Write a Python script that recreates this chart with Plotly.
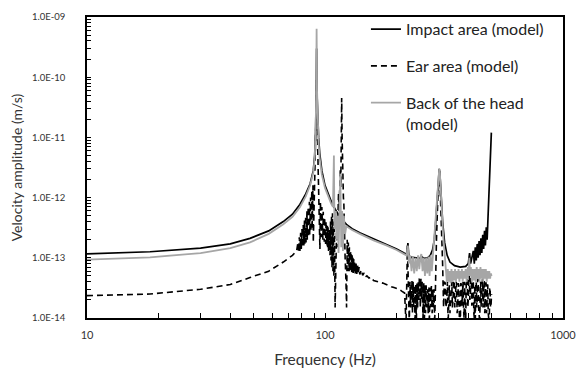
import plotly.graph_objects as go

# ---------------- data ----------------
impact_f = [10, 18.4, 30, 40, 48.4, 58, 66.8, 73, 78.4, 83, 86.6, 89.3, 90.5, 91.3, 91.8, 92.2, 92.6, 93.2, 94, 95,
            97, 100, 103, 107, 112, 117, 123, 125, 130, 140, 150, 160, 180, 200, 215, 220, 222, 223, 224.5, 226,
            230, 240, 250, 255, 260, 270, 277, 283, 288, 292, 296, 299, 302, 305, 308, 312, 318, 326, 335, 350,
            370, 390, 400, 405, 409, 415, 420, 424, 428, 432, 436, 440, 444, 448, 452, 456, 460, 464, 468, 472,
            476, 480, 484, 488, 491, 494, 497, 500]
impact_v = [1.16e-13, 1.26e-13, 1.45e-13, 1.7e-13, 2.1e-13, 2.8e-13, 4.0e-13, 5.3e-13, 7.7e-13, 1.15e-12, 1.7e-12,
            2.8e-12, 5e-12, 1.2e-11, 5e-11, 3e-10, 5e-11, 1.5e-11, 1e-11, 5.5e-12,
            2.8e-12, 1.6e-12, 1.15e-12, 8e-13, 5.8e-13, 4.5e-13, 3.6e-13, 3.4e-13, 3.05e-13, 2.6e-13, 2.3e-13,
            2.05e-13, 1.7e-13, 1.4e-13, 1.2e-13, 1.15e-13, 1.4e-13, 1.75e-13, 1.2e-13, 9e-14,
            1.02e-13, 1e-13, 9.8e-14, 1.05e-13, 9.8e-14, 1e-13, 1.1e-13, 1.35e-13, 2e-13, 4e-13, 9e-13, 2e-12,
            3e-12, 2e-12, 9e-13, 4e-13, 1.8e-13, 1.1e-13, 8.5e-14, 7.4e-14,
            7e-14, 7.2e-14, 8e-14, 1.2e-13, 8e-14, 1e-13, 1.3e-13, 8e-14, 1.5e-13, 9e-14, 1.7e-13, 1e-13, 1.9e-13,
            1.1e-13, 2.1e-13, 1.2e-13, 2.4e-13, 1.4e-13, 2.8e-13, 1.6e-13,
            3.2e-13, 2e-13, 4.5e-13, 8e-13, 1.5e-12, 2.5e-12, 5e-12, 1.2e-11]

ear_f = [10, 18.4, 30, 40, 48.4, 58, 66.8, 73, 76,
         77, 77.5, 78, 78.5, 79, 79.5, 80, 80.5, 81, 81.5, 82, 82.25, 82.5, 82.75, 83, 83.25, 83.5, 83.75,
         84, 84.25, 84.5, 84.75, 85, 85.25, 85.5, 85.75, 86, 86.25, 86.5, 86.75, 87, 87.25, 87.5, 87.75,
         88, 88.25, 88.5, 88.75, 89,
         89.3, 90, 91, 91.6, 92.1, 92.6, 93.3, 94.2, 95.2,
         95.7, 96, 96.3, 96.6, 97, 97.3, 97.6, 98, 98.3, 98.6, 99, 99.3, 99.6, 100, 100.3, 100.6, 101, 101.3,
         101.6, 102, 102.3, 102.6, 103, 103.5, 104, 105,
         105.5, 106, 106.5, 107, 107.5, 108, 108.5, 109, 109.5, 110.3, 111, 111.5, 112, 112.5, 113, 113.5,
         114, 114.5, 115, 115.5, 116, 116.5, 117, 117.5, 118, 118.5, 119, 119.5, 120, 120.5, 121, 121.5,
         122.5, 123.2, 124, 124.3, 124.6, 125, 125.3, 125.6, 126, 126.3, 126.6, 127, 127.3, 127.6, 128, 128.5,
         129, 129.5, 130, 130.5, 131, 131.5, 132, 132.5, 133, 134, 135, 136, 137, 138, 139, 140,
         142, 144, 146, 148, 150, 153, 156, 160, 165, 170, 175, 180, 185, 190, 195, 200, 205, 210, 216,
         219, 222, 226, 227.5, 229, 230, 231, 232, 233, 234.5, 236, 237.5, 239, 240.5, 242, 243.5, 245, 246.5,
         248, 249, 250, 251.5, 253, 254.5, 256, 258, 260, 261.5, 263, 264.5, 266, 268, 270, 271.5, 273, 274.5,
         276, 278, 280, 282, 284, 285.5, 287, 288, 289, 294, 298, 303, 308, 312,
         315, 317, 320, 322, 325, 327, 329, 331, 333, 335, 337, 339, 341, 343, 345, 347, 349, 351, 353, 355,
         357, 359, 361, 363, 365, 367, 369, 370.5, 372, 374, 376, 378, 380, 382, 384, 386, 388, 390, 392, 394,
         396, 398, 400, 402, 404, 406, 408, 410, 412, 414, 416, 418, 420, 422, 424, 426, 428, 430, 432, 434,
         436, 438, 440, 442, 444, 445.5, 447, 449, 451, 453, 455, 457, 459, 461, 463, 465, 467, 469, 471, 473,
         475, 477, 479, 481, 483, 485, 487, 488.5, 490, 492, 494, 496, 498, 501]
ear_v = [2.35e-14, 2.5e-14, 3e-14, 3.6e-14, 4.7e-14, 6e-14, 8.5e-14, 1.1e-13, 1.3e-13,
         1.8e-13, 1.25e-13, 2.2e-13, 1.3e-13, 2.6e-13, 1.4e-13, 3e-13, 1.5e-13, 3.5e-13, 1.6e-13, 4.2e-13,
         1.7e-13, 4.6e-13, 1.7e-13, 5e-13, 1.8e-13, 5.5e-13, 1.8e-13,
         6e-13, 2e-13, 6.5e-13, 2e-13, 7e-13, 2.2e-13, 7.7e-13, 2.2e-13, 8.5e-13, 2.4e-13, 9e-13, 2.5e-13,
         1e-12, 2.7e-13, 1.1e-12, 2.8e-13, 1.3e-12, 3e-13, 1.4e-12, 3e-13, 1.6e-12,
         1.8e-13, 1.5e-12, 5e-12, 2e-11, 9e-11, 2e-11, 5e-12, 1.5e-12, 1.4e-13,
         8.5e-13, 2.3e-13, 7.5e-13, 2.2e-13, 7e-13, 2.1e-13, 6.3e-13, 2e-13, 5.8e-13, 1.9e-13, 5.2e-13,
         1.85e-13, 4.7e-13, 1.8e-13, 4.3e-13, 1.7e-13, 4e-13, 1.65e-13, 3.7e-13, 1.6e-13, 3.4e-13, 1.5e-13,
         3.2e-13, 1.3e-13, 2.9e-13, 1.1e-13,
         4e-13, 9e-14, 5e-13, 7e-14, 5.5e-13, 6e-14, 4e-13, 5e-14, 3e-13, 1.5e-14, 2e-13, 8e-14, 4e-13, 1.5e-13,
         7e-13, 3e-13,
         1.2e-12, 6e-13, 2e-12, 1.2e-12, 3e-12, 1.5e-12, 1e-11, 4.5e-11, 1e-11, 2e-12, 2.5e-12, 1e-12, 8e-13,
         2e-13, 5e-13, 1e-13,
         4e-14, 1.5e-14, 2e-13, 6e-14, 1.9e-13, 6.5e-14, 1.8e-13, 6.5e-14, 1.6e-13, 6e-14, 1.5e-13, 6e-14,
         1.4e-13, 6e-14, 1.3e-13, 6e-14,
         1.2e-13, 5.8e-14, 1.1e-13, 5.7e-14, 1e-13, 5.6e-14, 9.5e-14, 5.5e-14, 8.5e-14, 5.5e-14, 8e-14, 5.4e-14,
         7.5e-14, 5.4e-14, 7e-14, 5.3e-14,
         6.3e-14, 5.1e-14, 5.6e-14, 4.8e-14, 5e-14, 4.6e-14, 4.8e-14, 4.2e-14, 4.1e-14, 3.9e-14, 3.8e-14,
         3.6e-14, 3.5e-14, 3.3e-14, 3.2e-14, 3.1e-14, 3e-14, 2.8e-14, 2.6e-14,
         8e-15, 1.6e-13, 8e-15, 4e-14, 1.5e-14, 3.5e-14, 2e-14, 4.2e-14, 1.2e-14, 4e-14, 1.5e-14, 3.5e-14,
         8e-15, 3.6e-14, 8e-15, 3.8e-14, 1.5e-14, 4e-14,
         2e-14, 4.5e-14, 4.7e-14, 1.5e-14, 4.5e-14, 2e-14, 4e-14, 1e-14, 3.8e-14, 8e-15, 3.5e-14, 1.2e-14,
         3.5e-14, 1.5e-14, 3e-14, 1.2e-14, 3.2e-14, 8e-15,
         3.2e-14, 1.5e-14, 3.4e-14, 1.2e-14, 3e-14, 1.5e-14, 3e-14, 1.5e-14, 8e-15, 2e-13, 1e-12, 2.8e-12,
         5e-13, 8e-14,
         1.5e-14, 4e-14, 3.8e-14, 1.5e-14, 2e-14, 4e-14, 8e-15, 3.2e-14, 3.5e-14, 1.2e-14, 1.8e-14, 4e-14,
         4e-14, 1.5e-14, 2e-14, 4.2e-14, 4.2e-14, 1.5e-14, 1.8e-14, 4e-14,
         3.8e-14, 1.2e-14, 1.5e-14, 3.8e-14, 3.5e-14, 1e-14, 1.2e-14, 8e-15, 3.8e-14, 3.6e-14, 1.6e-14, 3.8e-14,
         4e-14, 1.4e-14, 1e-14, 4e-14, 1e-14, 8e-15, 3.5e-14, 4.5e-14,
         4.5e-14, 1.5e-14, 2e-14, 4.8e-14, 5e-14, 2e-14, 2.2e-14, 4.5e-14, 4.5e-14, 1.6e-14, 1.8e-14, 4.2e-14,
         4e-14, 1.2e-14, 1e-14, 3.5e-14, 8e-15, 3.5e-14, 4e-14, 1.5e-14,
         2e-14, 4.2e-14, 4.5e-14, 1.5e-14, 1e-14, 8e-15, 8e-15, 3.8e-14, 4e-14, 1.5e-14, 2e-14, 4.2e-14,
         4.5e-14, 1.5e-14, 1.8e-14, 4e-14, 4e-14, 1.2e-14, 1.5e-14, 3.8e-14,
         3.8e-14, 1.2e-14, 1.5e-14, 3.6e-14, 3.5e-14, 1.2e-14, 1e-14, 8e-15, 8e-15, 3e-14, 3.2e-14, 1.5e-14,
         1.5e-14, 2.5e-14]

back_f = [10, 18.4, 30, 40, 48.4, 58, 66.8, 73, 78.4, 83, 86.6, 89.3, 90.5, 91.3, 91.8, 92.2, 92.6, 93.2, 94, 95,
          97, 100, 103, 106, 108, 109, 109.6, 111, 112, 113, 114, 115, 116, 117, 118, 119, 120, 121.5, 123, 125,
          130, 140, 150, 160, 180, 200, 215, 220, 223, 225, 228, 231, 234, 237, 240, 243, 246, 249, 252, 254,
          257, 260, 263, 266, 269, 272, 275, 278, 281, 285, 289, 293, 297, 300, 302, 304, 307, 310, 314, 318,
          322, 325, 328, 331, 334, 337, 340, 343, 346, 349, 352, 355, 358, 361, 364, 367, 370, 373, 376, 379,
          382, 386, 390, 394, 398, 401, 404, 407, 410, 414, 418, 422, 426, 430, 434, 438, 442, 446, 450, 454,
          458, 462, 466, 470, 474, 478, 482, 486, 490, 494, 498, 501]
back_v = [9.3e-14, 1.02e-13, 1.2e-13, 1.45e-13, 1.8e-13, 2.5e-13, 3.6e-13, 4.8e-13, 6.9e-13, 1.05e-12, 1.6e-12,
          2.6e-12, 4.5e-12, 1.1e-11, 5e-11, 6.4e-10, 6e-11, 1.5e-11, 8e-12, 4.5e-12,
          2.4e-12, 1.45e-12, 1.05e-12, 8e-13, 7e-13, 5e-12, 3e-13, 6e-13, 2e-13, 5e-13, 1.2e-13, 4e-13, 2.5e-12,
          1.5e-13, 6e-13, 1.3e-13, 5e-13, 2.5e-13, 3.4e-13, 3.2e-13,
          2.9e-13, 2.5e-13, 2.2e-13, 1.95e-13, 1.62e-13, 1.35e-13, 1.15e-13, 1.1e-13, 1.6e-13, 8e-14, 1.1e-13,
          6e-14, 1.05e-13, 5.5e-14, 1e-13, 6e-14, 1.1e-13, 6.5e-14, 1.05e-13, 1.15e-13,
          6e-14, 1e-13, 5e-14, 1e-13, 5.5e-14, 1.05e-13, 5e-14, 1.1e-13, 6e-14, 1.3e-13, 2.2e-13, 5e-13, 1.2e-12,
          2.5e-12, 3e-12, 2.5e-12, 1.1e-12, 5e-13, 2.2e-13, 1.2e-13,
          7e-14, 4e-14, 6.5e-14, 4e-14, 6e-14, 3.8e-14, 6.5e-14, 4e-14, 6e-14, 4.2e-14, 6.5e-14, 4e-14, 6e-14,
          4.5e-14, 6.5e-14, 4e-14, 6e-14, 4.5e-14, 6.5e-14, 4e-14,
          6e-14, 4.5e-14, 6.5e-14, 4e-14, 7e-14, 5e-14, 1e-13, 5e-14, 7e-14, 4e-14, 6.5e-14, 4.2e-14, 6.5e-14,
          4e-14, 7e-14, 4.5e-14, 6.5e-14, 4e-14, 7e-14, 4.5e-14,
          6.5e-14, 4e-14, 6.5e-14, 4.5e-14, 6.5e-14, 4e-14, 6e-14, 4.5e-14, 6e-14, 4.5e-14, 5.5e-14, 5e-14]

names = ["Impact area (model)", "Ear area (model)", "Back of the head<br>(model)"]

x_tickvals = [10, 20, 30, 40, 50, 60, 70, 80, 90, 100, 200, 300, 400, 500, 600, 700, 800, 900, 1000]
x_ticktext = ["10", "", "", "", "", "", "", "", "", "100", "", "", "", "", "", "", "", "", "1000"]

y_major = [1e-14, 1e-13, 1e-12, 1e-11, 1e-10, 1e-9]
y_major_text = ["1.0E-14", "1.0E-13", "1.0E-12", "1.0E-11", "1.0E-10", "1.0E-09"]
y_minor_mult = [2, 3, 4, 5, 6, 7, 8, 9]

# ---------------- figure ----------------
y_tickvals, y_ticktext = [], []
for v, t in zip(y_major, y_major_text):
    y_tickvals.append(v)
    y_ticktext.append(t)
    if v < 1e-9:
        for m in y_minor_mult:
            y_tickvals.append(v * m)
            y_ticktext.append("")

FONT = "Lato, 'Open Sans', sans-serif"

fig = go.Figure()
fig.add_trace(go.Scatter(x=impact_f, y=impact_v, mode="lines", name=names[0], legendgroup="a",
                         line=dict(color="black", width=1.7)))
fig.add_trace(go.Scatter(x=ear_f, y=ear_v, mode="lines", name=names[1], legendgroup="b",
                         line=dict(color="black", width=1.6, dash="6px,4px")))
fig.add_trace(go.Scatter(x=back_f, y=back_v, mode="lines", name=names[2], legendgroup="c",
                         line=dict(color="#a6a6a6", width=1.8)))

fig.update_layout(
    width=578, height=368,
    margin=dict(l=87, r=15, t=13, b=50),
    paper_bgcolor="white", plot_bgcolor="white",
    font=dict(family=FONT, color="#333333"),
    showlegend=True,
    legend=dict(x=0.586, y=1.016, xanchor="left", yanchor="top", bgcolor="rgba(0,0,0,0)",
                font=dict(size=16, color="#222222", family=FONT), itemwidth=30,
                tracegroupgap=13, valign="top", traceorder="grouped"),
)
fig.update_xaxes(type="log", range=[1, 3], tickvals=x_tickvals, ticktext=x_ticktext,
                 ticks="inside", ticklen=5, tickcolor="black", tickwidth=1,
                 showline=True, linecolor="black", linewidth=1.5, mirror=True,
                 showgrid=False, zeroline=False, automargin=False, ticklabelstandoff=6,
                 tickfont=dict(size=11, color="#333333"),
                 title=dict(text="Frequency (Hz)", font=dict(size=15.5, color="#333333")))
fig.update_yaxes(type="log", range=[-14, -9], tickvals=y_tickvals, ticktext=y_ticktext,
                 ticks="inside", ticklen=4, tickcolor="black", tickwidth=1,
                 showline=True, linecolor="black", linewidth=1.5, mirror=True,
                 showgrid=False, zeroline=False, automargin=False, ticklabelstandoff=18,
                 tickfont=dict(size=9.5, color="#333333"),
                 title=dict(text="Velocity amplitude (m/s)", font=dict(size=14, color="#333333"), standoff=6))

fig.write_html("out.html", config={"displayModeBar": False},
               post_script="document.body.style.margin='0';")
